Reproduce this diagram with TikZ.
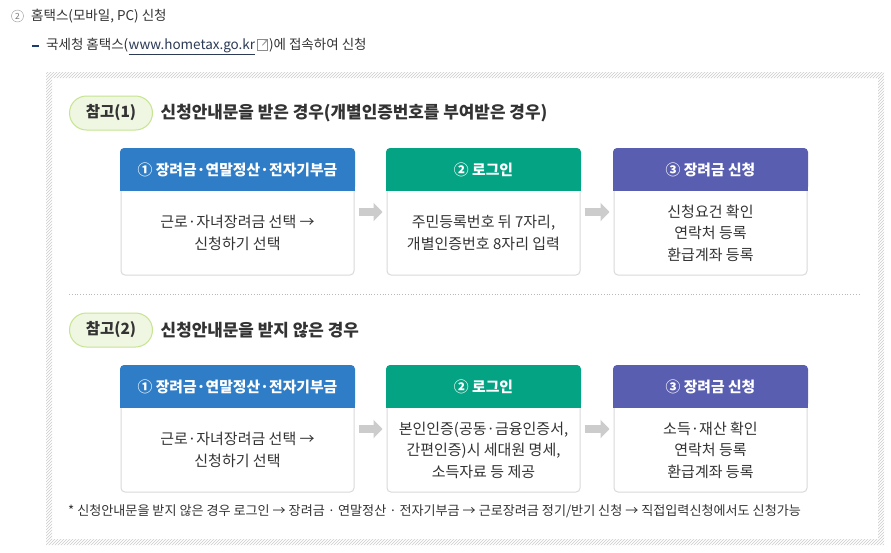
\documentclass[tikz,border=0pt]{standalone}
\usepackage{fontspec}
\setmainfont{Noto Sans CJK KR}
\usetikzlibrary{arrows.meta,patterns,calc}
\definecolor{hblue}{HTML}{2E7DC6}
\definecolor{hgreen}{HTML}{04A384}
\definecolor{hpurple}{HTML}{5A5EB0}
\definecolor{pillfill}{HTML}{EFF6E1}
\definecolor{pillline}{HTML}{C6E590}
\definecolor{arrgray}{HTML}{CCCCCC}
\definecolor{boxline}{HTML}{DADADA}
\definecolor{txt}{HTML}{333333}
\definecolor{navy}{HTML}{1B3C6E}
\definecolor{linkc}{HTML}{2B3A55}
\newcommand{\mkcard}[7]{%
  \node[card, minimum width=#4] (#1) at (#2,#3) {};
  \fill[#5, rounded corners=4pt] ($(#1.north west)+(-0.5,-0.5)$) rectangle ($(#1.north east)+(0.5,42)$);
  \fill[#5] ($(#1.north west)+(-0.5,30)$) rectangle ($(#1.north east)+(0.5,42)$);
  \node[hdrtext, minimum width=#4] (#1h) at ($(#1.north)+(0,21)$) {#6};
  \node[bodytext] (#1t) at ($(#1.south)!0.5!(#1h.south)$) {#7};
}
\begin{document}
\begin{tikzpicture}[x=1pt,y=-1pt,
  card/.style={draw=boxline, line width=1pt, rounded corners=4pt, minimum height=126pt, inner sep=0pt},
  hdrtext/.style={text=white, font=\bfseries\fontsize{14.8}{16}\selectfont, minimum height=42pt, inner sep=0pt},
  bodytext/.style={text=txt, align=center, font=\fontsize{15}{21.5}\selectfont, inner sep=0pt},
  bigarrow/.style={draw=arrgray, line width=8pt, -{Triangle[length=9pt,width=18pt]}, shorten <=4pt, shorten >=4pt},
  pill/.style={draw=pillline, fill=pillfill, line width=1pt, rounded corners=17pt, minimum width=83pt, minimum height=34pt, inner sep=0pt, text=txt, font=\bfseries\fontsize{15.5}{17}\selectfont},
  ptitle/.style={anchor=west, inner sep=0pt, text=txt, font=\bfseries\fontsize{16.9}{18}\selectfont},
  plain/.style={inner sep=0pt, text=txt, font=\fontsize{13.5}{16}\selectfont}
]
\useasboundingbox (0,0) rectangle (891,552);
\fill[white] (0,0) rectangle (891,552);

% top lines
\node[circle, draw=gray!80, minimum size=12pt, inner sep=0pt, text=gray!90!black, font=\fontsize{8.5}{8.5}\selectfont] (c2) at (17.5,16) {2};
\node[plain, anchor=west] (top) at (31,16) {홈택스(모바일, PC) 신청};
\fill[navy] (32,44.5) rectangle (39,47);
\node[plain, anchor=west] (l2a) at (46,45.5) {국세청 홈택스(};
\node[plain, anchor=base west, text=linkc] (l2b) at (l2a.base east) {\underline{www.hometax.go.kr}};
\node[draw=gray!90, line width=0.8pt, minimum width=10pt, minimum height=11pt, inner sep=0pt] (icon) at ($(l2b.base east)+(7,-4.5)$) {};
\draw[gray!90, line width=0.8pt, -{Straight Barb[length=2pt,width=3.5pt]}] (icon.center) -- (icon.north east);
\node[plain, anchor=base west] (l2c) at ($(l2b.base east)+(13.5,0)$) {)에 접속하여 신청};

% hatched frame
\fill[pattern=north east lines, pattern color=black!20, even odd rule] (46,72) rectangle (884,545) (52,78) rectangle (878,539);

% section 1
\node[pill] (p1) at (111,113) {참고(1)};
\node[ptitle] (t1) at ($(p1.east)+(7.5,0)$) {신청안내문을 받은 경우(개별인증번호를 부여받은 경우)};
\mkcard{a1}{237.5}{212}{233pt}{hblue}{① 장려금·연말정산·전자기부금}{근로·자녀장려금 선택 →\\신청하기 선택}
\mkcard{a2}{483.5}{212}{193pt}{hgreen}{② 로그인}{주민등록번호 뒤 7자리,\\개별인증번호 8자리 입력}
\mkcard{a3}{710.5}{212}{193pt}{hpurple}{③ 장려금 신청}{신청요건 확인\\연락처 등록\\환급계좌 등록}
\draw[bigarrow] (a1) -- (a2);
\draw[bigarrow] (a2) -- (a3);

% separator
\draw[gray!55, dotted, line width=0.8pt] (69,294) -- (860,294);

% section 2
\node[pill] (p2) at (111,330) {참고(2)};
\node[ptitle] (t2) at ($(p2.east)+(7.5,0)$) {신청안내문을 받지 않은 경우};
\mkcard{b1}{237.5}{429}{233pt}{hblue}{① 장려금·연말정산·전자기부금}{근로·자녀장려금 선택 →\\신청하기 선택}
\mkcard{b2}{483.5}{429}{193pt}{hgreen}{② 로그인}{본인인증(공동·금융인증서,\\간편인증)시 세대원 명세,\\소득자료 등 제공}
\mkcard{b3}{710.5}{429}{193pt}{hpurple}{③ 장려금 신청}{소득·재산 확인\\연락처 등록\\환급계좌 등록}
\draw[bigarrow] (b1) -- (b2);
\draw[bigarrow] (b2) -- (b3);

% footnote
\node[anchor=west, inner sep=0pt, text=txt, font=\fontsize{13.1}{15}\selectfont] (fn) at (68,511.5) {* 신청안내문을 받지 않은 경우 로그인 → 장려금 · 연말정산 · 전자기부금 → 근로장려금 정기/반기 신청 → 직접입력신청에서도 신청가능};
\end{tikzpicture}
\end{document}
